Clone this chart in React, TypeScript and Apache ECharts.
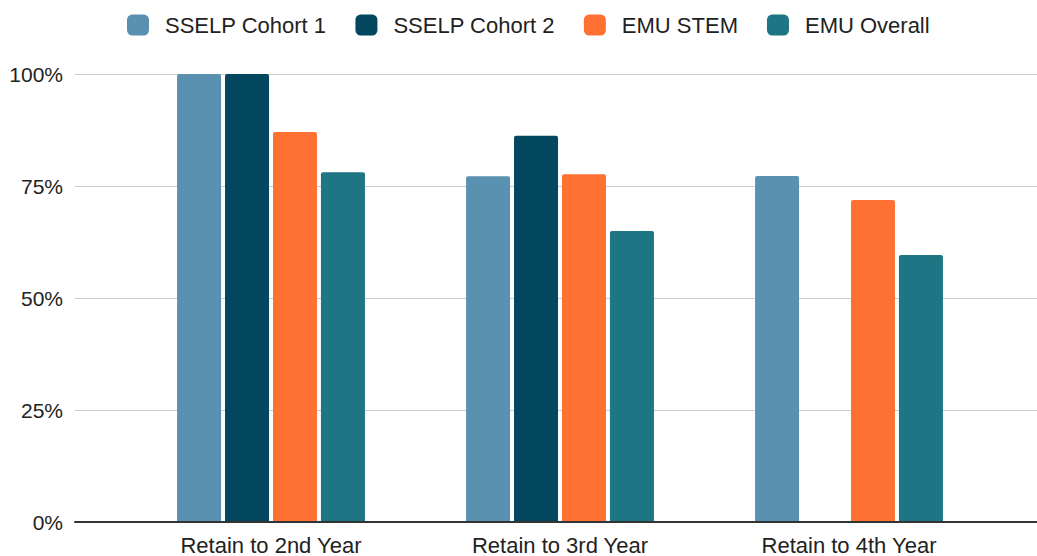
import React, { useEffect, useRef } from "react";
import * as echarts from "echarts";

const categories = ["Retain to 2nd Year", "Retain to 3rd Year", "Retain to 4th Year"];
const seriesNames = ["SSELP Cohort 1", "SSELP Cohort 2", "EMU STEM", "EMU Overall"];
const cohort1 = [100, 77.1, 77.2];
const cohort2 = [100, 86.2, null];
const emuStem = [87, 77.6, 71.8];
const emuOverall = [78, 64.9, 59.5];
const yTicks = [0, 25, 50, 75, 100];
const colors = ["#5a91b0", "#02475e", "#ff7033", "#1e7584"];

const FONT = "'Liberation Sans', Arial, sans-serif";

export default function App() {
  const ref = useRef<HTMLDivElement>(null);
  useEffect(() => {
    if (!ref.current) return;
    const chart = echarts.init(ref.current, undefined, { renderer: "svg" });
    const values = [cohort1, cohort2, emuStem, emuOverall];
    chart.setOption({
      animation: false,
      backgroundColor: "#ffffff",
      textStyle: { fontFamily: FONT },
      legend: {
        left: 127,
        top: 14,
        padding: 0,
        itemWidth: 22,
        itemHeight: 21,
        itemGap: 29,
        icon: "roundRect",
        textStyle: { fontSize: 22, color: "#222", fontFamily: FONT, padding: [0, 0, 0, 11] },
        data: seriesNames,
      },
      grid: [
        { left: 75, right: 0, top: 74, bottom: 34, containLabel: false },
        { left: 126.5, right: 43.5, top: 74, bottom: 34, containLabel: false },
      ],
      xAxis: [
        {
          type: "value",
          gridIndex: 0,
          min: 0,
          max: 1,
          axisLine: { show: true, onZero: false, lineStyle: { color: "#333", width: 2 } },
          axisTick: { show: false },
          axisLabel: { show: false },
          splitLine: { show: false },
          z: 5,
        },
        {
          type: "category",
          gridIndex: 1,
          data: categories,
          axisLine: { show: false },
          axisTick: { show: false },
          axisLabel: { fontSize: 22, color: "#222", margin: 13, fontFamily: FONT },
        },
      ],
      yAxis: [
        {
          type: "value",
          gridIndex: 0,
          min: yTicks[0],
          max: yTicks[yTicks.length - 1],
          interval: 25,
          axisLine: { show: false },
          axisTick: { show: false },
          axisLabel: { formatter: "{value}%", fontSize: 21, color: "#222", margin: 12, fontFamily: FONT },
          splitLine: { lineStyle: { color: "#cccccc", width: 1 } },
        },
        {
          type: "value",
          gridIndex: 1,
          min: 0,
          max: 100,
          show: false,
        },
      ],
      series: seriesNames.map((name, i) => ({
        name,
        type: "bar",
        xAxisIndex: 1,
        yAxisIndex: 1,
        data: values[i],
        barWidth: 44,
        barGap: "9%",
        itemStyle: { color: colors[i], borderRadius: [2, 2, 0, 0] },
      })),
    });
    return () => chart.dispose();
  }, []);
  return (
    <div
      ref={ref}
      style={{ position: "fixed", left: 0, top: 0, width: 1037, height: 556, background: "#fff" }}
    />
  );
}
